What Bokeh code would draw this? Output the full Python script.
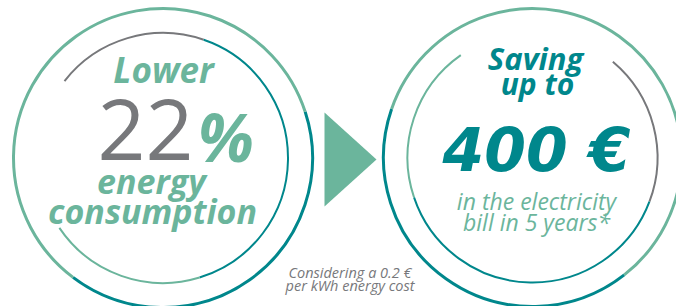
import math
from bokeh.plotting import figure
from bokeh.models import Range1d
from bokeh.core.properties import value
from bokeh.embed import file_html
from bokeh.resources import INLINE

# ---- data (values shown in the infographic) ----
percent_lower = 22
saving_eur = 400
years = 5
cost_per_kwh = 0.2
left_lines = ["Lower", f"{percent_lower}", "%", "energy", "consumption"]
right_lines = ["Saving", "up to", f"{saving_eur} \u20ac", "in the electricity", f"bill in {years} years*"]
note_lines = [f"Considering a {cost_per_kwh} \u20ac", "per kWh energy cost"]

GREEN = "#6bb59c"
TEAL = "#00878c"
GREY = "#77787b"

W, H = 676, 306
p = figure(width=W, height=H, x_range=Range1d(0, W), y_range=Range1d(0, H),
           output_backend="svg", toolbar_location=None,
           x_axis_location=None, y_axis_location=None, min_border=0)
p.grid.visible = False
p.outline_line_color = None
p.background_fill_color = "white"
p.border_fill_color = "white"


def Y(py):
    return H - py


def ring(cx, cy, r, segs, lw):
    for a0, a1, col in segs:
        p.arc(x=cx, y=Y(cy), radius=r, start_angle=math.radians(a0), end_angle=math.radians(a1),
              direction="anticlock", line_color=col, line_width=lw)


# left circle
lcx, lcy = 162.5, 157.5
ring(lcx, lcy, 149.5, [(-127, 18, TEAL), (18, 233, GREEN)], 3)
ring(lcx, lcy, 125, [(71, 142, GREY), (-73, 71, TEAL), (214, 287, GREEN)], 2)

# right circle
rcx, rcy = 532, 157
ring(rcx, rcy, 149, [(161, 308, TEAL), (308, 521, GREEN)], 3)
ring(rcx, rcy, 125, [(-20.7, 50, GREY), (198.6, 339.3, TEAL), (125, 198.6, GREEN)], 2)

# arrow
p.patch(x=[324, 376, 324], y=[Y(112), Y(159), Y(206)], fill_color=GREEN, line_color=None)


def txt(x, py, s, size, color, style, align="center", font="Open Sans", k=0.3, c=3.0):
    # baseline correction for where Bokeh places the text relative to y
    py = py - (k * size + c)
    p.text(x=[x], y=[Y(py)], text=[s], text_font=value(font), text_font_size=f"{size}px",
           text_color=color, text_font_style=style, text_align=align, text_baseline="alphabetic")


txt(163, 82, left_lines[0], 35, GREEN, "bold italic")
txt(97, 157, left_lines[1], 84, GREY, "normal", align="left")
txt(197, 158, left_lines[2], 66, GREEN, "bold italic", align="left")
txt(151, 194, left_lines[3], 34, GREEN, "bold italic")
txt(152, 224, left_lines[4], 34, GREEN, "bold italic")

txt(535, 70, right_lines[0], 31, TEAL, "bold italic")
txt(537, 95, right_lines[1], 30, TEAL, "bold italic")
txt(536, 170, right_lines[2], 60, TEAL, "bold italic", font="DejaVu Sans")
txt(536, 210, right_lines[3], 23, GREEN, "italic")
txt(536, 231, right_lines[4], 23, GREEN, "italic")

txt(349.5, 279, note_lines[0], 14.5, GREY, "italic")
txt(349.5, 292, note_lines[1], 14.5, GREY, "italic")

open("out.html", "w").write(file_html(p, INLINE))
